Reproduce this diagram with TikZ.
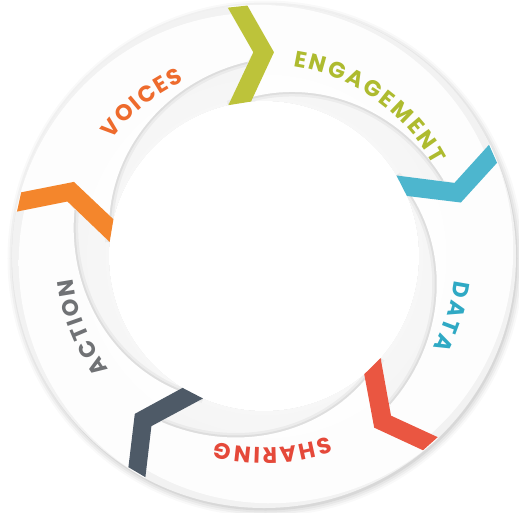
\documentclass[tikz,border=0pt]{standalone}
\usepackage{fontspec}
\usetikzlibrary{decorations.text}
\newfontfamily\ringfont{Poppins}
\newcommand\ringlabel{\ringfont\bfseries\fontsize{22.5}{22.5}\selectfont}
\definecolor{orangechev}{HTML}{F4862C}
\definecolor{greenchev}{HTML}{BDC33A}
\definecolor{bluechev}{HTML}{4DB6CE}
\definecolor{redchev}{HTML}{EA5641}
\definecolor{slatechev}{HTML}{4E5A67}
\definecolor{voicestext}{HTML}{EE6B2D}
\definecolor{engagetext}{HTML}{AEBB2F}
\definecolor{datatext}{HTML}{2FA9C4}
\definecolor{sharetext}{HTML}{E5493A}
\definecolor{actiontext}{HTML}{707275}
\pgfdeclareradialshading{ringbase}{\pgfpoint{0bp}{0bp}}{color(0bp)=(white); color(30.7bp)=(gray!13); color(33bp)=(gray!9); color(38bp)=(gray!9); color(39.5bp)=(gray!5); color(50bp)=(gray!5)}
\pgfdeclareradialshading{ringtop}{\pgfpoint{0bp}{0bp}}{color(0bp)=(white); color(30.7bp)=(gray!2); color(40bp)=(gray!3); color(50bp)=(gray!9)}
\tikzset{
  ringtext/.style 2 args={decorate,decoration={text along path,text align=center,text color=#1,text={|\ringlabel|#2}}}
}

\begin{document}
\begin{tikzpicture}[x=1pt,y=1pt,line join=bevel]
\useasboundingbox (-264,-256) rectangle (255,256);
%% soft shadow round the ring
\foreach \r/\o in {7/0.025,5/0.035,3/0.045,1/0.06}
  \fill[black,opacity=\o] (1.5,-2.5) circle (251+\r);
\shade[shading=ringbase,even odd rule] (0,0) circle (252) (0,0) circle (155);
%% shadows under the inner edges
\foreach \s/\e in {169.5/98, 98/26, 26/-46.5, -46.5/-118.5, -118.5/-190.5}{
  \pgfmathsetmacro\ia{\s+5.3}
  \pgfmathsetmacro\ib{\e-3.1}
  \draw[black,opacity=0.04,line width=9] plot[domain=\ia:\ib,samples=40] (\x:{155+40*(\ia-\x)/(\ia-\ib)});
  \draw[black,opacity=0.06,line width=4] plot[domain=\ia:\ib,samples=40] (\x:{155+40*(\ia-\x)/(\ia-\ib)});
}
\fill[white] (0,0) circle (155);
%% segments
\foreach \s/\e in {169.5/98, 98/26, 26/-46.5, -46.5/-118.5, -118.5/-190.5}{
  \pgfmathsetmacro\ia{\s+5.3}
  \pgfmathsetmacro\ib{\e-3.1}
  \pgfmathsetmacro\oa{\e-0.6}
  \pgfmathsetmacro\ob{\s+0.3}
  \begin{scope}
    \clip (\ob:252) -- ({\s-5}:204) -- (\ia:155)
      -- plot[domain=\ia:\ib,samples=40] (\x:{155+40*(\ia-\x)/(\ia-\ib)})
      -- ({\e-5}:204) -- (\oa:244)
      -- plot[domain=\oa:\ob,samples=40] (\x:{244+8*(\x-\oa)/(\ob-\oa)}) -- cycle;
    \shade[shading=ringtop] (0,0) circle (252);
  \end{scope}
}
%% chevrons
\foreach \s/\c in {169.5/orangechev, 98/greenchev, 26/bluechev, -46.5/redchev, -118.5/slatechev}
  \fill[\c] ({\s-4.2}:251) -- ({\s-10.8}:204) -- ({\s-3.2}:155) -- ({\s+5.3}:155) -- ({\s-5}:204) -- ({\s+0.3}:251) -- cycle;
%% labels
\path[ringtext={voicestext}{V{\kern2pt}O{\kern2pt}I{\kern2pt}C{\kern2pt}E{\kern2pt}S}] (178.5:192) arc[start angle=178.5,end angle=78.5,radius=192];
\path[ringtext={engagetext}{E{\kern2.5pt}N{\kern2.5pt}G{\kern2.5pt}A{\kern2.5pt}G{\kern2.5pt}E{\kern2.5pt}M{\kern2.5pt}E{\kern2.5pt}N{\kern2.5pt}T}] (104.7:192) arc[start angle=104.7,end angle=4.7,radius=192];
\path[ringtext={datatext}{D{\kern2.5pt}A{\kern2.5pt}T{\kern2.5pt}A}] (32.1:192) arc[start angle=32.1,end angle=-67.9,radius=192];
\path[ringtext={sharetext}{S{\kern2pt}H{\kern2pt}A{\kern2pt}R{\kern2pt}I{\kern2pt}N{\kern2pt}G}] (-37.4:192) arc[start angle=-37.4,end angle=-137.4,radius=192];
\path[ringtext={actiontext}{A{\kern2pt}C{\kern2pt}T{\kern2pt}I{\kern2pt}O{\kern2pt}N}] (-108.5:192) arc[start angle=-108.5,end angle=-208.5,radius=192];
%
\end{tikzpicture}
\end{document}
